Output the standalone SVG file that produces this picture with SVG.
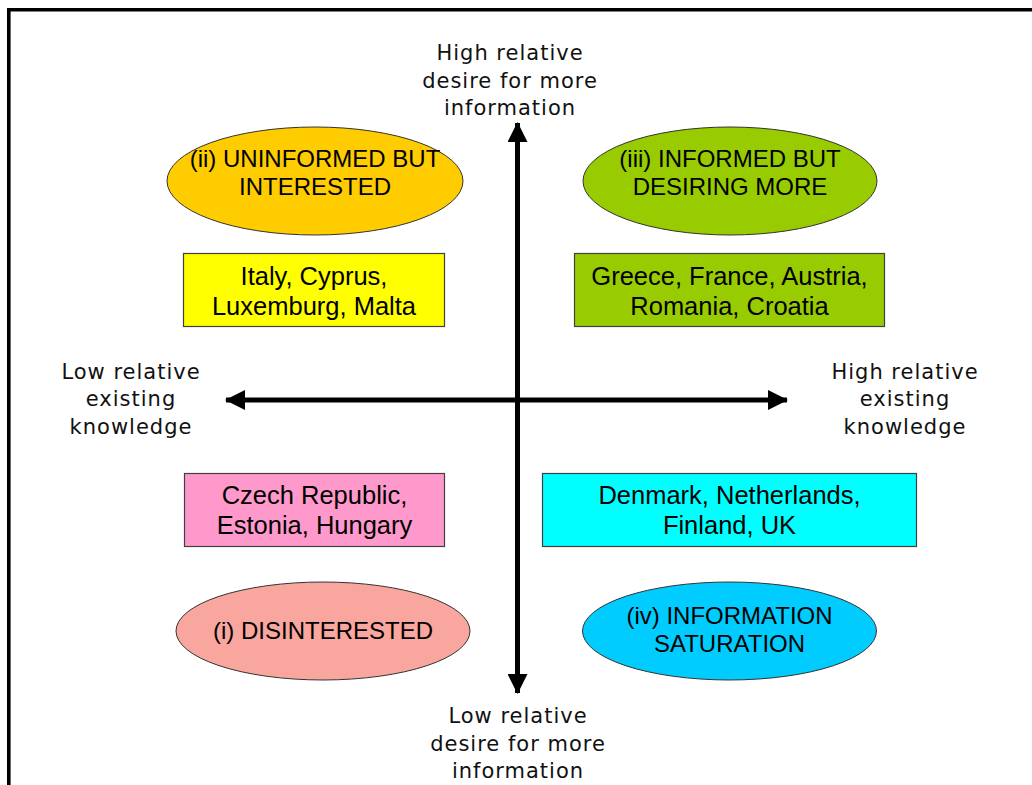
<svg xmlns="http://www.w3.org/2000/svg" width="1032" height="785" viewBox="0 0 1032 785">
<style>
.ax{font-family:"DejaVu Sans",Verdana,sans-serif;font-size:21px;letter-spacing:1px;fill:#111;text-anchor:middle}
.el{font-family:"Liberation Sans",Arial,sans-serif;font-size:24px;fill:#000;text-anchor:middle}
.bx{font-family:"Liberation Sans",Arial,sans-serif;font-size:25.5px;fill:#000;text-anchor:middle}
.eshape{stroke:#333;stroke-width:1}
.rshape{stroke:#404040;stroke-width:1.2}
</style>
<defs>
<marker id="ah" viewBox="0 0 20 20" refX="19" refY="10" markerWidth="20" markerHeight="20" markerUnits="userSpaceOnUse" orient="auto">
<path d="M0,0 L20,10 L0,20 Z" fill="#000"/>
</marker>
</defs>
<rect width="1032" height="785" fill="#fff"/>
<path d="M8.8,785 V9.8 H1032" fill="none" stroke="#000" stroke-width="3.6"/>
<g id="connectors">
<line x1="517.5" y1="400" x2="517.5" y2="123" stroke="#000" stroke-width="5" marker-end="url(#ah)"/>
<line x1="517.5" y1="400" x2="517.5" y2="693" stroke="#000" stroke-width="5" marker-end="url(#ah)"/>
<line x1="517.5" y1="400" x2="226" y2="400" stroke="#000" stroke-width="5" marker-end="url(#ah)"/>
<line x1="517.5" y1="400" x2="787" y2="400" stroke="#000" stroke-width="5" marker-end="url(#ah)"/>
</g>
<g id="label-top">
<text class="ax" x="510" y="60">High relative</text>
<text class="ax" x="510" y="87.5">desire for more</text>
<text class="ax" x="510" y="115">information</text>
</g>
<g id="label-bottom">
<text class="ax" x="518" y="723">Low relative</text>
<text class="ax" x="518" y="750.5">desire for more</text>
<text class="ax" x="518" y="778">information</text>
</g>
<g id="label-left">
<text class="ax" x="131" y="378.5">Low relative</text>
<text class="ax" x="131" y="406">existing</text>
<text class="ax" x="131" y="433.5">knowledge</text>
</g>
<g id="label-right">
<text class="ax" x="905" y="378.5">High relative</text>
<text class="ax" x="905" y="406">existing</text>
<text class="ax" x="905" y="433.5">knowledge</text>
</g>
<g id="q2-ellipse">
<ellipse class="eshape" cx="315" cy="181" rx="148" ry="54" fill="#FFCC00"/>
<text class="el" x="315" y="167">(ii) UNINFORMED BUT</text>
<text class="el" x="315" y="195">INTERESTED</text>
</g>
<g id="q3-ellipse">
<ellipse class="eshape" cx="730" cy="181" rx="147" ry="54" fill="#99CC00"/>
<text class="el" x="730" y="167">(iii) INFORMED BUT</text>
<text class="el" x="730" y="195">DESIRING MORE</text>
</g>
<g id="q2-box">
<rect class="rshape" x="183.5" y="253.5" width="261" height="73" fill="#FFFF00"/>
<text class="bx" x="314" y="284.5">Italy, Cyprus,</text>
<text class="bx" x="314" y="314.5">Luxemburg, Malta</text>
</g>
<g id="q3-box">
<rect class="rshape" x="574.5" y="253.5" width="310" height="73" fill="#99CC00"/>
<text class="bx" x="729.5" y="284.5">Greece, France, Austria,</text>
<text class="bx" x="729.5" y="314.5">Romania, Croatia</text>
</g>
<g id="q1-box">
<rect class="rshape" x="184.5" y="473.5" width="260" height="73" fill="#FF99CC"/>
<text class="bx" x="314.5" y="504">Czech Republic,</text>
<text class="bx" x="314.5" y="534">Estonia, Hungary</text>
</g>
<g id="q4-box">
<rect class="rshape" x="542.5" y="473.5" width="374" height="73" fill="#00FFFF"/>
<text class="bx" x="729.5" y="504">Denmark, Netherlands,</text>
<text class="bx" x="729.5" y="534">Finland, UK</text>
</g>
<g id="q1-ellipse">
<ellipse class="eshape" cx="323" cy="631" rx="147" ry="49" fill="#F9A69F"/>
<text class="el" x="323" y="639">(i) DISINTERESTED</text>
</g>
<g id="q4-ellipse">
<ellipse class="eshape" cx="729.5" cy="631" rx="147" ry="49" fill="#00CCFF"/>
<text class="el" x="729.5" y="624">(iv) INFORMATION</text>
<text class="el" x="729.5" y="652">SATURATION</text>
</g>
</svg>
